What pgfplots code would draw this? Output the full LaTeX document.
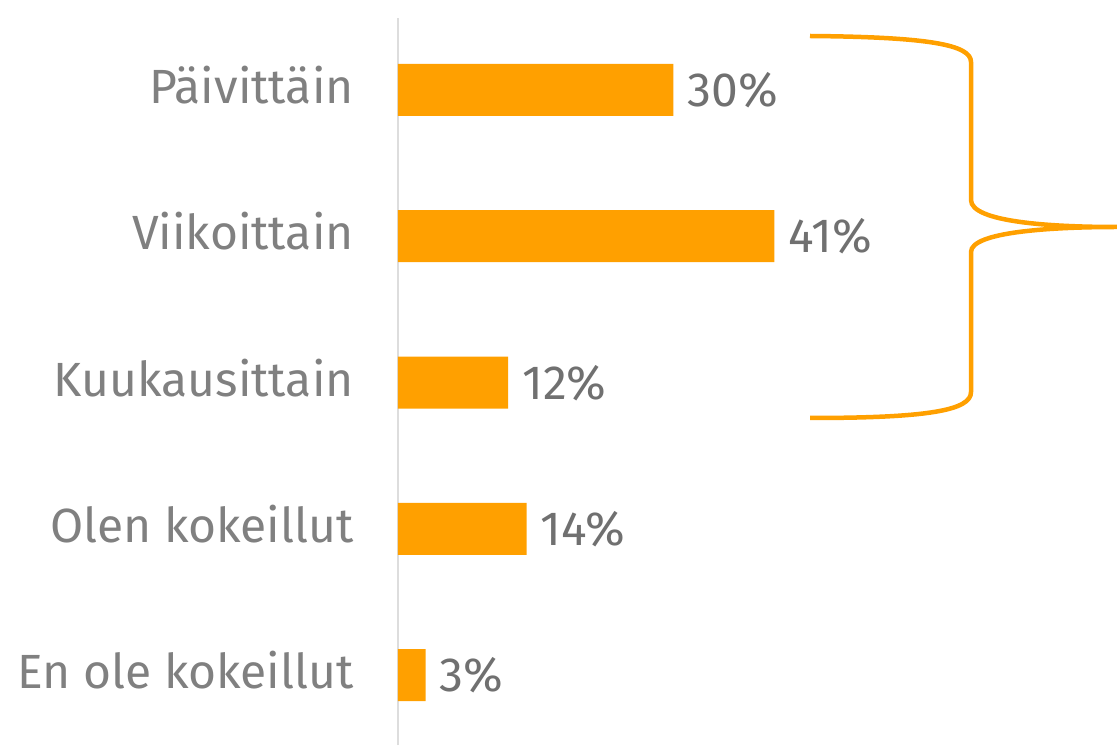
\documentclass[border=0pt]{standalone}
\usepackage{pgfplots}
\pgfplotsset{compat=1.18}
\usepackage{fontspec}
\setmainfont{Fira Sans}
\definecolor{barorange}{HTML}{FFA000}
\definecolor{labgrey}{HTML}{808080}
\definecolor{valgrey}{HTML}{707070}
\definecolor{axgrey}{HTML}{DDDDDD}
\begin{document}
\begin{tikzpicture}
\path[use as bounding box] (-398pt,0pt) rectangle (719pt,745pt);
\begin{axis}[
  scale only axis,
  width=719pt, height=727pt,
  anchor=south west, at={(0pt,0pt)},
  xbar, bar width=52pt,
  xmin=0, xmax=78.3,
  ymin=-0.478, ymax=4.492,
  axis x line=none,
  axis y line=left,
  y axis line style={-, draw=axgrey, line width=1.5pt},
  ytick={0,1,2,3,4},
  yticklabels={En ole kokeillut, Olen kokeillut, Kuukausittain, Viikoittain, Päivittäin},
  ytick style={draw=none},
  yticklabel style={font=\fontsize{48}{58}\selectfont, text=labgrey, anchor=east,
    inner sep=0pt, text height=33pt, text depth=0pt, xshift=-42pt, yshift=3pt},
  /pgf/number format/assume math mode=true,
  point meta=x,
  nodes near coords={\pgfmathprintnumber[assume math mode=true]{\pgfplotspointmeta}\%},
  every node near coord/.append style={font=\fontsize{48}{58}\selectfont, text=valgrey,
    anchor=west, inner sep=0pt, text height=33pt, text depth=0pt, xshift=14pt},
  clip=false,
]
\addplot[fill=barorange, draw=none] coordinates {(3,0) (14,1) (12,2) (41,3) (30,4)};
\end{axis}
\begin{scope}[shift={(-398pt,745pt)}, x=1pt, y=-1pt]
\draw[barorange, line width=4.5pt, line cap=butt]
  (810,36) .. controls (930,37) and (971,45) .. (971,62)
  -- (971,200) .. controls (971,222) and (1050,227) .. (1117,227)
  .. controls (1050,227) and (971,232) .. (971,252)
  -- (971,392) .. controls (971,410) and (930,418) .. (810,418);
\end{scope}
\end{tikzpicture}
\end{document}
